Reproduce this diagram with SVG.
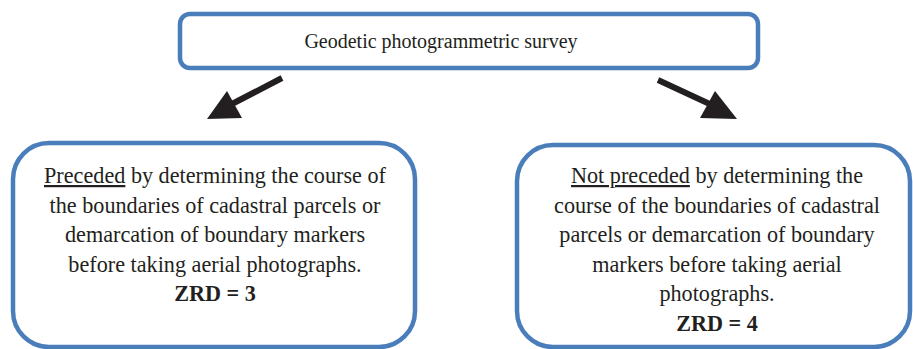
<svg xmlns="http://www.w3.org/2000/svg" width="913" height="349" viewBox="0 0 913 349">
<style>
.box{fill:#fff;stroke:#4a7ebb;stroke-width:4.5}
.t{font-family:"Liberation Serif","Times New Roman",serif;font-size:22.2px;fill:#231f20;text-anchor:middle}
.b{font-weight:bold}
.arr{stroke:#231f20;stroke-width:6;fill:none}
.head{fill:#231f20}
</style>
<rect width="913" height="349" fill="#fff"/>
<g id="top">
<rect class="box" x="180" y="14" width="578" height="54" rx="10"/>
<text class="t" x="441" y="48" style="font-size:20px">Geodetic photogrammetric survey</text>
</g>
<g id="left">
<rect class="box" x="13" y="143" width="402" height="204" rx="36"/>
<text class="t" x="215" y="183"><tspan text-decoration="underline">Preceded</tspan> by determining the course of</text>
<text class="t" x="215" y="212.5">the boundaries of cadastral parcels or</text>
<text class="t" x="215" y="242">demarcation of boundary markers</text>
<text class="t" x="215" y="271.5">before taking aerial photographs.</text>
<text class="t b" x="215" y="301">ZRD = 3</text>
</g>
<g id="right">
<rect class="box" x="517" y="145" width="393" height="202" rx="36"/>
<text class="t" x="717" y="183"><tspan text-decoration="underline">Not preceded</tspan> by determining the</text>
<text class="t" x="717" y="212.5">course of the boundaries of cadastral</text>
<text class="t" x="717" y="242">parcels or demarcation of boundary</text>
<text class="t" x="717" y="271.5">markers before taking aerial</text>
<text class="t" x="717" y="301">photographs.</text>
<text class="t b" x="717" y="330.5">ZRD = 4</text>
</g>
<g id="connectors">
<line class="arr" x1="282" y1="78" x2="230" y2="105"/>
<polygon class="head" points="207,119 227,91 242,118"/>
<line class="arr" x1="658" y1="80" x2="714" y2="106"/>
<polygon class="head" points="737,119 715,91 700,118"/>
</g>
</svg>
